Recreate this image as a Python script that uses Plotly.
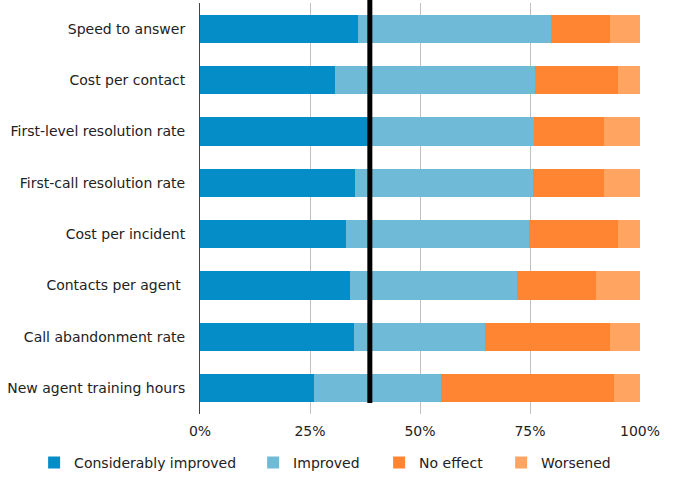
import plotly.graph_objects as go

categories = [
    'Speed to answer',
    'Cost per contact',
    'First-level resolution rate',
    'First-call resolution rate',
    'Cost per incident',
    'Contacts per agent ',
    'Call abandonment rate',
    'New agent training hours',
]

# percent of respondents per answer
considerably_improved = [36.0, 30.6, 38.5, 35.3, 33.1, 34.0, 34.9, 26.0]
improved = [43.8, 45.6, 37.5, 40.4, 41.7, 38.0, 29.9, 28.8]
no_effect = [13.3, 18.9, 15.9, 16.2, 20.1, 17.9, 28.3, 39.2]
worsened = [6.9, 4.9, 8.1, 8.1, 5.1, 10.1, 6.9, 6.0]

series_names = ['Considerably improved', 'Improved', 'No effect', 'Worsened']
series_values = [considerably_improved, improved, no_effect, worsened]
colors = ['#058DC7', '#6FBAD7', '#FF8533', '#FFA561']
# width of each legend entry (px), a bit wider than the text
legend_widths = [174, 81, 77, 82]

# black reference line
marker_value = 38.6

fig = go.Figure()
for name, vals, col, lw in zip(series_names, series_values, colors, legend_widths):
    fig.add_trace(go.Bar(
        y=categories,
        x=vals,
        name=name,
        orientation='h',
        marker=dict(color=col, line=dict(width=0)),
        legendwidth=lw,
    ))

fig.add_shape(
    type='line',
    xref='x', yref='paper',
    x0=marker_value, x1=marker_value,
    y0=0.027, y1=1.01,
    line=dict(color='black', width=5),
)

fig.update_layout(
    barmode='stack',
    bargap=0.45,
    width=675,
    height=477,
    margin=dict(l=200, r=35, t=3, b=63, autoexpand=False),
    plot_bgcolor='white',
    paper_bgcolor='white',
    font=dict(family='DejaVu Sans, Verdana, sans-serif', size=14, color='#222'),
    showlegend=True,
    legend=dict(
        orientation='h',
        x=-0.377, xanchor='left',
        y=-0.119, yanchor='middle',
        font=dict(size=14, color='#222'),
        traceorder='normal',
        itemwidth=30,
    ),
    xaxis=dict(
        range=[0, 100],
        dtick=25,
        ticksuffix='%',
        showgrid=True,
        gridcolor='#c0c0c0',
        gridwidth=1,
        zeroline=False,
        showline=False,
        ticks='',
        ticklabelstandoff=7,
        automargin=False,
        fixedrange=True,
    ),
    yaxis=dict(
        autorange='reversed',
        showline=True,
        linecolor='#444',
        linewidth=1,
        ticks='',
        ticklabelstandoff=11,
        showgrid=False,
        automargin=False,
        fixedrange=True,
    ),
)

# page body has an 8px default margin; drop it so the figure sits at 0,0
fig.write_html('out.html', config={'displayModeBar': False},
               post_script="document.body.style.margin='0px';")
